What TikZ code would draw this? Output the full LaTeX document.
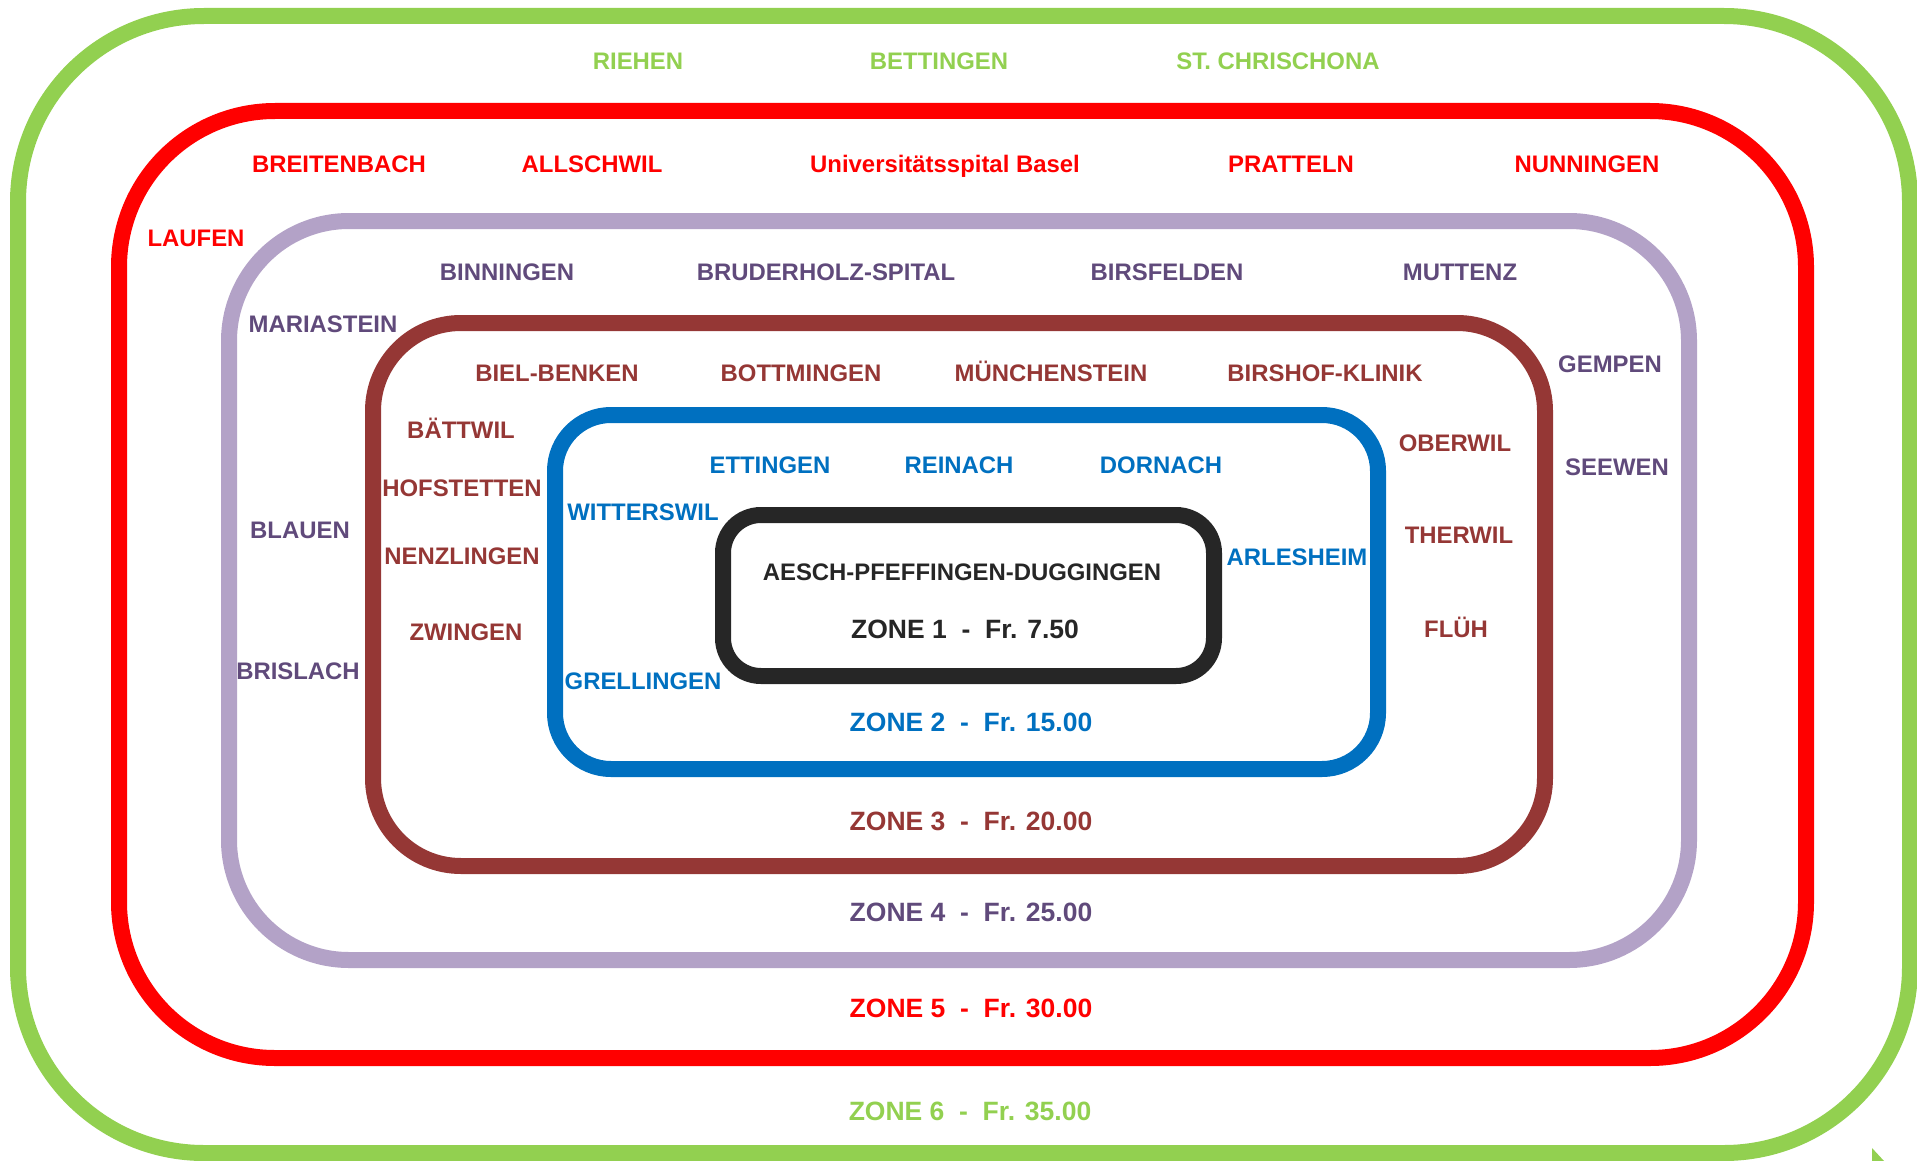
\documentclass[tikz,border=0pt]{standalone}
\usepackage{fontspec}
\setmainfont{Liberation Sans}
\usetikzlibrary{positioning}
\definecolor{zgreen}{HTML}{92D050}
\definecolor{zred}{HTML}{FF0000}
\definecolor{zlilac}{HTML}{B3A2C7}
\definecolor{zpurple}{HTML}{604A7B}
\definecolor{zbrown}{HTML}{953735}
\definecolor{zblue}{HTML}{0070C0}
\definecolor{zblack}{HTML}{262626}

\begin{document}
\begin{tikzpicture}[x=0.5pt, y=-0.5pt,
    ring/.style={line width=8pt},
    place/.style={inner sep=0pt, text height=8.55pt, text depth=0pt,
        font=\fontsize{11.95}{14}\selectfont\bfseries},
    price/.style={inner sep=0pt, text height=9.5pt, text depth=0pt,
        font=\fontsize{13.25}{16}\selectfont\bfseries}]
    \useasboundingbox (0,0) rectangle (1917,1161);

    % zone rings
    \draw[ring, zgreen, rounded corners=93pt] (18,16) rectangle (1910,1153);
    \draw[ring, zred, rounded corners=78pt] (119,111) rectangle (1806,1058);
    \draw[ring, zlilac, rounded corners=60pt] (229,221) rectangle (1689,960);
    \draw[ring, zbrown, rounded corners=44pt] (373,323) rectangle (1545,866);
    \draw[ring, zblue, rounded corners=28pt] (555,415) rectangle (1378,769);
    \draw[ring, zblack, rounded corners=19pt] (723,515) rectangle (1214,676);
    \fill[zgreen] (1872,1148) -- (1872,1161) -- (1884,1161) -- cycle;

    % zone 1
    \node[place, zblack] (aesch) at (962,572) {AESCH-PFEFFINGEN-DUGGINGEN};
    \node[price, zblack] (zone1) at (965,629) {ZONE 1~~-~~Fr. 7.50};

    % zone 2
    \node[place, zblue] (ettingen) at (770,465) {ETTINGEN};
    \node[place, zblue] (reinach) at (959,465) {REINACH};
    \node[place, zblue] (dornach) at (1161,465) {DORNACH};
    \node[place, zblue] (witterswil) at (643,512) {WITTERSWIL};
    \node[place, zblue] (arlesheim) at (1297,557) {ARLESHEIM};
    \node[place, zblue] (grellingen) at (643,681) {GRELLINGEN};
    \node[price, zblue] (zone2) at (971,722) {ZONE 2~~-~~Fr. 15.00};

    % zone 3
    \node[place, zbrown] (bielbenken) at (557,373) {BIEL-BENKEN};
    \node[place, zbrown] (bottmingen) at (801,373) {BOTTMINGEN};
    \node[place, zbrown] (muenchenstein) at (1051,373) {MÜNCHENSTEIN};
    \node[place, zbrown] (birshof) at (1325,373) {BIRSHOF-KLINIK};
    \node[place, zbrown] (baettwil) at (461,430) {BÄTTWIL};
    \node[place, zbrown] (hofstetten) at (462,488) {HOFSTETTEN};
    \node[place, zbrown] (nenzlingen) at (462,556) {NENZLINGEN};
    \node[place, zbrown] (zwingen) at (466,632) {ZWINGEN};
    \node[place, zbrown] (oberwil) at (1455,443) {OBERWIL};
    \node[place, zbrown] (therwil) at (1459,535) {THERWIL};
    \node[place, zbrown] (flueh) at (1456,629) {FLÜH};
    \node[price, zbrown] (zone3) at (971,821) {ZONE 3~~-~~Fr. 20.00};

    % zone 4
    \node[place, zpurple] (binningen) at (507,272) {BINNINGEN};
    \node[place, zpurple] (bruderholz) at (826,272) {BRUDERHOLZ-SPITAL};
    \node[place, zpurple] (birsfelden) at (1167,272) {BIRSFELDEN};
    \node[place, zpurple] (muttenz) at (1460,272) {MUTTENZ};
    \node[place, zpurple] (mariastein) at (323,324) {MARIASTEIN};
    \node[place, zpurple] (blauen) at (300,530) {BLAUEN};
    \node[place, zpurple] (brislach) at (298,671) {BRISLACH};
    \node[place, zpurple] (gempen) at (1610,364) {GEMPEN};
    \node[place, zpurple] (seewen) at (1617,467) {SEEWEN};
    \node[price, zpurple] (zone4) at (971,912) {ZONE 4~~-~~Fr. 25.00};

    % zone 5
    \node[place, zred] (breitenbach) at (339,164) {BREITENBACH};
    \node[place, zred] (allschwil) at (592,164) {ALLSCHWIL};
    \node[place, zred] (unispital) at (945,164) {Universitätsspital Basel};
    \node[place, zred] (pratteln) at (1291,164) {PRATTELN};
    \node[place, zred] (nunningen) at (1587,164) {NUNNINGEN};
    \node[place, zred] (laufen) at (196,238) {LAUFEN};
    \node[price, zred] (zone5) at (971,1008) {ZONE 5~~-~~Fr. 30.00};

    % zone 6
    \node[place, zgreen] (riehen) at (638,61) {RIEHEN};
    \node[place, zgreen] (bettingen) at (939,61) {BETTINGEN};
    \node[place, zgreen] (chrischona) at (1278,61) {ST. CHRISCHONA};
    \node[price, zgreen] (zone6) at (970,1111) {ZONE 6~~-~~Fr. 35.00};
\end{tikzpicture}
\end{document}
